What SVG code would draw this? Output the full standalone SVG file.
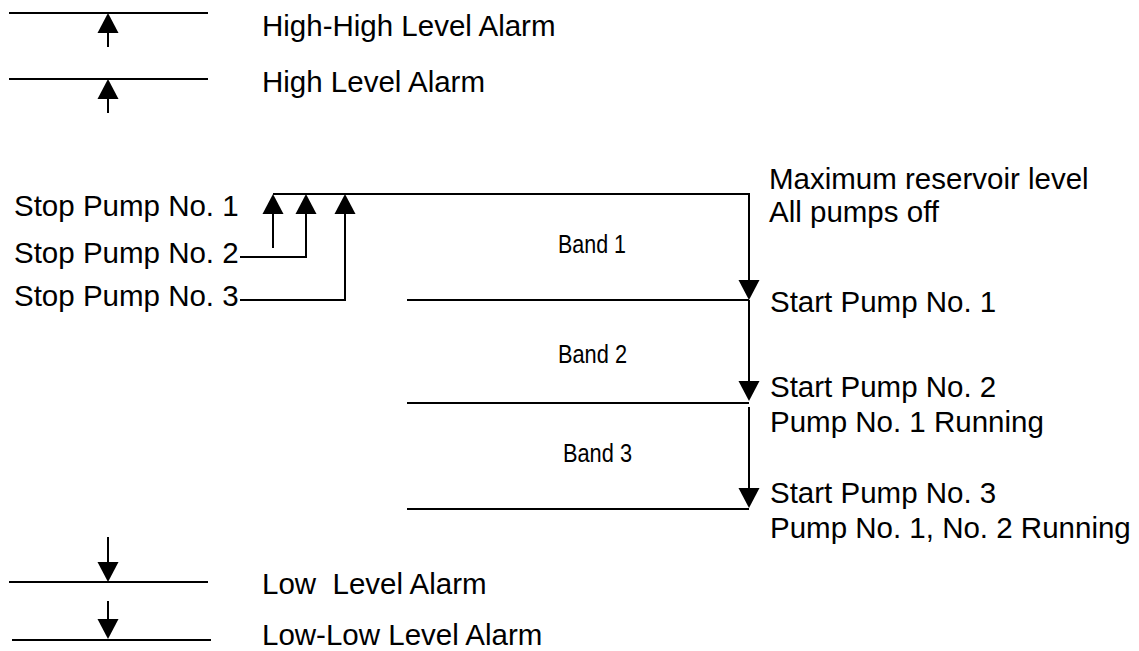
<svg xmlns="http://www.w3.org/2000/svg" xmlns:xlink="http://www.w3.org/1999/xlink" width="1139" height="651" viewBox="0 0 1139 651">
<style>
.t{font-family:"Liberation Sans",Arial,sans-serif;font-size:29.5px;fill:#000;white-space:pre}
.b{font-family:"Liberation Sans",Arial,sans-serif;font-size:25px;fill:#000}
.ln{stroke:#000;stroke-width:2;fill:none}
</style>
<defs>
<path id="up" d="M0,0 L10.5,20 L-10.5,20 Z" fill="#000"/>
<path id="dn" d="M0,0 L10.5,-20 L-10.5,-20 Z" fill="#000"/>
</defs>
<rect width="1139" height="651" fill="#fff"/>
<g id="hh-alarm">
<line class="ln" x1="9" y1="13" x2="208" y2="13"/>
<line class="ln" x1="108" y1="30" x2="108" y2="47"/>
<use xlink:href="#up" x="108" y="13"/>
<text class="t" x="262" y="36">High-High Level Alarm</text>
</g>
<g id="h-alarm">
<line class="ln" x1="9" y1="79" x2="208" y2="79"/>
<line class="ln" x1="108" y1="96" x2="108" y2="113"/>
<use xlink:href="#up" x="108" y="79"/>
<text class="t" x="262" y="92">High Level Alarm</text>
</g>
<g id="stop1"><text class="t" x="14" y="216">Stop Pump No. 1</text></g>
<g id="stop2"><text class="t" x="14" y="263">Stop Pump No. 2</text></g>
<g id="stop3"><text class="t" x="14" y="306">Stop Pump No. 3</text></g>
<g id="max-level"><text class="t" x="769" y="189">Maximum reservoir level</text><text class="t" x="769" y="222">All pumps off</text></g>
<g id="start1"><text class="t" x="770" y="312">Start Pump No. 1</text></g>
<g id="start2"><text class="t" x="770" y="397">Start Pump No. 2</text><text class="t" x="770" y="432">Pump No. 1 Running</text></g>
<g id="start3"><text class="t" x="770" y="503">Start Pump No. 3</text><text class="t" x="770" y="538">Pump No. 1, No. 2 Running</text></g>
<g id="band1"><text class="b" x="558" y="253" textLength="68" lengthAdjust="spacingAndGlyphs">Band 1</text></g>
<g id="band2"><text class="b" x="558" y="363" textLength="69" lengthAdjust="spacingAndGlyphs">Band 2</text></g>
<g id="band3"><text class="b" x="563" y="462" textLength="69" lengthAdjust="spacingAndGlyphs">Band 3</text></g>
<g id="l-alarm">
<line class="ln" x1="9" y1="582" x2="208" y2="582"/>
<line class="ln" x1="108" y1="537" x2="108" y2="565"/>
<use xlink:href="#dn" x="108" y="582"/>
<text class="t" x="262" y="594">Low  Level Alarm</text>
</g>
<g id="ll-alarm">
<line class="ln" x1="12" y1="640" x2="211" y2="640"/>
<line class="ln" x1="108" y1="601" x2="108" y2="623"/>
<use xlink:href="#dn" x="108" y="639"/>
<text class="t" x="262" y="645">Low-Low Level Alarm</text>
</g>
<g id="connectors">
<path class="ln" d="M273,194 H749 V283"/>
<use xlink:href="#dn" x="749" y="300"/>
<line class="ln" x1="407" y1="300" x2="749" y2="300"/>
<line class="ln" x1="749" y1="300" x2="749" y2="385"/>
<use xlink:href="#dn" x="749" y="401"/>
<line class="ln" x1="407" y1="403" x2="749" y2="403"/>
<line class="ln" x1="749" y1="407" x2="749" y2="491"/>
<use xlink:href="#dn" x="749" y="508"/>
<line class="ln" x1="407" y1="509" x2="749" y2="509"/>
<line class="ln" x1="273" y1="210" x2="273" y2="248"/>
<use xlink:href="#up" x="273" y="194"/>
<path class="ln" d="M240,257 H306 V210"/>
<use xlink:href="#up" x="306" y="194"/>
<path class="ln" d="M240,300 H345 V210"/>
<use xlink:href="#up" x="345" y="194"/>
</g>
</svg>
